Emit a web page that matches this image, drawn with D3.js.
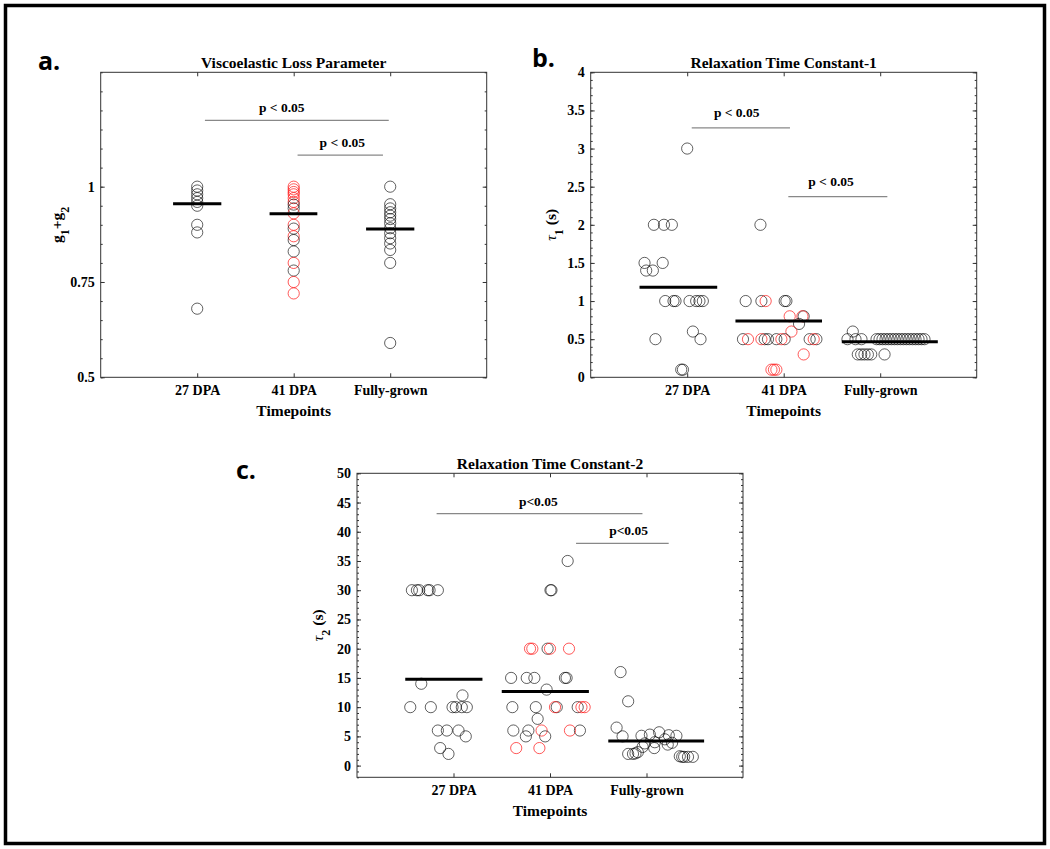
<!DOCTYPE html>
<html>
<head>
<meta charset="utf-8">
<script src="https://cdn.jsdelivr.net/npm/d3@7"></script>
<style>
  html, body { margin: 0; padding: 0; background: #fff; }
  svg { display: block; }
</style>
</head>
<body>
<svg id="chart" width="1050" height="849"></svg>
<script>
// ---------------- DATA ----------------
const categories = ["27 DPA", "41 DPA", "Fully-grown"];

// Panel a: g1+g2 (no jitter); [value, subgroup]  k = black, r = red
const a27 = [[1.00,"k"],[0.99,"k"],[0.98,"k"],[0.97,"k"],[0.96,"k"],[0.95,"k"],[0.90,"k"],[0.88,"k"],[0.68,"k"]];
const a41 = [[1.00,"r"],[0.993,"r"],[0.986,"r"],[0.98,"r"],[0.97,"r"],[0.96,"r"],[0.953,"k"],[0.943,"k"],[0.93,"r"],
             [0.90,"r"],[0.89,"k"],[0.87,"r"],[0.86,"k"],[0.83,"k"],[0.80,"r"],[0.78,"k"],[0.75,"r"],[0.72,"r"]];
const aFG = [[1.00,"k"],[0.954,"k"],[0.943,"k"],[0.933,"k"],[0.924,"k"],[0.915,"k"],[0.904,"k"],[0.891,"k"],
             [0.878,"k"],[0.865,"k"],[0.851,"k"],[0.834,"k"],[0.80,"k"],[0.59,"k"]];
const aCenter = [0.955, 0.929, 0.889];
const aCenterSpan = [[-0.25,0.25],[-0.25,0.245],[-0.25,0.25]];
const aSig = [[1.08, 2.985, 1.174, 1.876, "p < 0.05"], [2.04, 2.925, 1.083, 2.504, "p < 0.05"]];

// Panel b: tau1; [jitter offset, value, subgroup]
const b27 = [[0,3.0,"k"],[-0.345,2.0,"k"],[-0.241,2.0,"k"],[-0.159,2.0,"k"],[-0.442,1.5,"k"],[-0.254,1.5,"k"],
             [-0.425,1.4,"k"],[-0.356,1.4,"k"],[-0.228,1.0,"k"],[-0.142,1.0,"k"],[-0.121,1.0,"k"],[0.024,1.0,"k"],
             [0.093,1.0,"k"],[0.127,1.0,"k"],[0.162,1.0,"k"],[-0.329,0.5,"k"],[0.059,0.6,"k"],[0.138,0.5,"k"],
             [-0.062,0.1,"k"],[-0.044,0.1,"k"]];
const b41 = [[-0.241,2.0,"k"],[-0.394,1.0,"k"],[-0.231,1.0,"k"],[-0.187,1.0,"r"],[0.010,1.0,"k"],[0.028,1.0,"k"],
             [0.062,0.8,"r"],[0.207,0.8,"k"],[0.194,0.8,"r"],[0.159,0.7,"k"],[0.080,0.6,"r"],[0.207,0.3,"r"],
             [-0.422,0.5,"k"],[-0.37,0.5,"r"],[-0.197,0.5,"k"],[-0.231,0.5,"r"],[-0.163,0.5,"k"],[-0.076,0.5,"k"],
             [0.010,0.5,"k"],[-0.024,0.5,"r"],[0.269,0.5,"k"],[0.339,0.5,"k"],[0.311,0.5,"r"],
             [-0.127,0.1,"r"],[-0.101,0.1,"r"],[-0.076,0.1,"r"]];
const bFG = [[-0.284,0.6,"k"],[-0.339,0.5,"k"],[-0.256,0.5,"k"],[-0.194,0.5,"k"],[-0.038,0.5,"k"],[-0.007,0.5,"k"],
             [0.024,0.5,"k"],[0.055,0.5,"k"],[0.086,0.5,"k"],[0.117,0.5,"k"],[0.148,0.5,"k"],[0.179,0.5,"k"],
             [0.210,0.5,"k"],[0.241,0.5,"k"],[0.272,0.5,"k"],[0.303,0.5,"k"],[0.335,0.5,"k"],[0.366,0.5,"k"],
             [0.397,0.5,"k"],[0.428,0.5,"k"],[0.459,0.5,"k"],[-0.232,0.3,"k"],[-0.197,0.3,"k"],[-0.163,0.3,"k"],
             [-0.128,0.3,"k"],[-0.093,0.3,"k"],[0.045,0.3,"k"]];
const bCenter = [1.18, 0.738, 0.467];
const bCenterSpan = [[-0.494,0.311],[-0.5,0.397],[-0.398,0.597]];
const bSig = [[1.047, 2.065, 3.27, 1.513, "p < 0.05"], [2.048, 3.074, 2.37, 2.49, "p < 0.05"]];

// Panel c: tau2; [jitter offset, value, subgroup]
const c27 = [[-0.431,30,"k"],[-0.379,30,"k"],[-0.355,30,"k"],[-0.266,30,"k"],[-0.248,30,"k"],[-0.162,30,"k"],
             [-0.334,14,"k"],[0.093,12,"k"],[-0.448,10,"k"],[-0.235,10,"k"],[-0.01,10,"k"],[0.024,10,"k"],
             [0.086,10,"k"],[0.138,10,"k"],[-0.162,6,"k"],[-0.069,6,"k"],[0.052,6,"k"],[0.127,5,"k"],
             [-0.138,3,"k"],[-0.052,2,"k"]];
const c41 = [[0.183,35,"k"],[0.005,30,"k"],[0.015,30,"k"],
             [-0.207,20,"r"],[-0.183,20,"r"],[-0.025,20,"k"],[0.0,20,"r"],[0.197,20,"r"],
             [-0.403,15,"k"],[-0.241,15,"k"],[-0.162,15,"k"],[0.155,15,"k"],[0.172,15,"k"],
             [-0.035,13,"k"],
             [-0.39,10,"k"],[-0.147,10,"k"],[0.070,10,"k"],[0.052,10,"r"],[0.287,10,"k"],[0.326,10,"r"],[0.359,10,"r"],
             [-0.128,8,"k"],
             [-0.38,6,"k"],[-0.224,6,"k"],[-0.087,6,"r"],[0.207,6,"r"],[0.31,6,"k"],
             [-0.25,5,"k"],[-0.05,5,"k"],
             [-0.35,3,"r"],[-0.11,3,"r"]];
const cFG = [[-0.269,16,"k"],[-0.19,11,"k"],[-0.31,6.5,"k"],[-0.248,5,"k"],
             [-0.052,5.1,"k"],[0.035,5.3,"k"],[0.131,5.7,"k"],[0.231,5.2,"k"],[0.31,5.1,"k"],
             [-0.017,3.8,"k"],[0.086,4.0,"k"],[0.19,4.5,"k"],[0.265,3.9,"k"],
             [-0.04,3.2,"k"],[0.08,3.0,"k"],[0.22,3.6,"k"],
             [-0.19,2.0,"k"],[-0.14,2.0,"k"],[-0.114,2.1,"k"],[-0.09,2.3,"k"],
             [0.345,1.6,"k"],[0.37,1.5,"k"],[0.39,1.5,"k"],[0.43,1.5,"k"],[0.48,1.5,"k"]];
const cCenter = [14.78, 12.66, 4.22];
const cCenterSpan = [[-0.5,0.3],[-0.5,0.403],[-0.396,0.597]];
const cSig = [[0.825, 2.958, 43.1, 1.879, "p<0.05"], [2.27, 3.23, 38, 2.814, "p<0.05"]];

// Axis ticks
const aTicks = [0.5, 0.75, 1];
const aTickLabels = ["0.5", "0.75", "1"];
const bTicks = [0, 0.5, 1, 1.5, 2, 2.5, 3, 3.5, 4];
const cTicks = [0, 5, 10, 15, 20, 25, 30, 35, 40, 45, 50];

// ---------------- DRAWING ----------------
const svg = d3.select("#chart");
const SERIF = "'Liberation Serif', 'Times New Roman', serif";
const COL = { k: "rgba(0,0,0,0.62)", r: "rgba(255,20,20,0.7)" };

// outer frame
svg.append("rect").attr("x", 5.5).attr("y", 5.5).attr("width", 1039).attr("height", 838)
  .attr("fill", "none").attr("stroke", "#000").attr("stroke-width", 3.5);

function drawPanel(cfg) {
  const { left, top, w, h } = cfg;
  const g = svg.append("g");
  const x = d3.scaleLinear().domain([0, 4]).range([left, left + w]);
  const y = d3.scaleLinear().domain(cfg.yDomain).range([top + h, top]);

  const styleAxis = sel => {
    sel.select(".domain").remove();
    sel.selectAll("line").attr("stroke", "#333").attr("stroke-width", 1);
    sel.selectAll("text").attr("font-family", SERIF).attr("font-weight", "bold")
      .attr("font-size", 14).attr("fill", "#000");
  };

  // minor ticks (left & right)
  const minorVals = d3.range(cfg.minor[0], cfg.minor[1] + 1e-9, cfg.minor[2]);
  g.append("g").attr("transform", `translate(${left},0)`)
    .call(d3.axisLeft(y).tickValues(minorVals).tickSize(-2).tickFormat("")).call(styleAxis);
  g.append("g").attr("transform", `translate(${left + w},0)`)
    .call(d3.axisRight(y).tickValues(minorVals).tickSize(-2).tickFormat("")).call(styleAxis);

  // major y ticks
  g.append("g").attr("transform", `translate(${left},0)`)
    .call(d3.axisLeft(y).tickValues(cfg.yTicks).tickSize(-4).tickPadding(6)
      .tickFormat((d, i) => cfg.yTickLabels ? cfg.yTickLabels[i] : d3.format("~g")(d)))
    .call(styleAxis);
  g.append("g").attr("transform", `translate(${left + w},0)`)
    .call(d3.axisRight(y).tickValues(cfg.yTicks).tickSize(-4).tickFormat("")).call(styleAxis);

  // x ticks
  g.append("g").attr("transform", `translate(0,${top + h})`)
    .call(d3.axisBottom(x).tickValues([1, 2, 3]).tickSize(-4).tickPadding(8)
      .tickFormat(d => categories[d - 1]))
    .call(styleAxis);
  g.append("g").attr("transform", `translate(0,${top})`)
    .call(d3.axisTop(x).tickValues([1, 2, 3]).tickSize(-4).tickFormat("")).call(styleAxis);

  // box
  g.append("rect").attr("x", left).attr("y", top).attr("width", w).attr("height", h)
    .attr("fill", "none").attr("stroke", "#333").attr("stroke-width", 1);

  // points
  cfg.groups.forEach((pts, gi) => {
    g.append("g").selectAll("circle").data(pts).join("circle")
      .attr("cx", d => x(gi + 1 + (cfg.jitter ? d[0] : 0)))
      .attr("cy", d => y(cfg.jitter ? d[1] : d[0]))
      .attr("r", 5.6)
      .attr("fill", "none")
      .attr("stroke", d => COL[cfg.jitter ? d[2] : d[1]])
      .attr("stroke-width", 1);
  });

  // center lines
  g.append("g").selectAll("line").data(cfg.center).join("line")
    .attr("x1", (d, i) => x(i + 1 + cfg.centerSpan[i][0]))
    .attr("x2", (d, i) => x(i + 1 + cfg.centerSpan[i][1]))
    .attr("y1", d => y(d)).attr("y2", d => y(d))
    .attr("stroke", "#000").attr("stroke-width", 3);

  // significance bars
  cfg.sig.forEach(s => {
    g.append("line").attr("x1", x(s[0])).attr("x2", x(s[1]))
      .attr("y1", y(s[2])).attr("y2", y(s[2]))
      .attr("stroke", "#888").attr("stroke-width", 1.3);
    g.append("text").attr("x", x(s[3])).attr("y", y(s[2]) - cfg.sigGap)
      .attr("text-anchor", "middle").attr("font-family", SERIF).attr("font-weight", "bold")
      .attr("font-size", 13.5).text(s[4]);
  });

  // title
  g.append("text").attr("x", left + w / 2).attr("y", top - 4).attr("text-anchor", "middle")
    .attr("font-family", SERIF).attr("font-weight", "bold").attr("font-size", 15.5).text(cfg.title);

  // x label
  g.append("text").attr("x", left + w / 2).attr("y", top + h + 39).attr("text-anchor", "middle")
    .attr("font-family", SERIF).attr("font-weight", "bold").attr("font-size", 15.5).text("Timepoints");

  // y label
  const yl = g.append("text")
    .attr("transform", `translate(${cfg.yLabelX},${top + h / 2}) rotate(-90)`)
    .attr("text-anchor", "middle").attr("dy", "0.35em")
    .attr("font-family", SERIF).attr("font-weight", "bold").attr("font-size", 15.5);
  cfg.yLabel(yl);

  // panel letter
  g.append("text").attr("x", cfg.letterPos[0]).attr("y", cfg.letterPos[1])
    .attr("font-family", "'Open Sans', 'Noto Sans', sans-serif").attr("font-weight", "bold")
    .attr("font-size", 25).text(cfg.letter);
}

drawPanel({
  left: 100.7, top: 72.3, w: 386, h: 305, yDomain: [0.5, 1.3],
  yTicks: aTicks, yTickLabels: aTickLabels, minor: [0.5, 1.3, 0.05],
  groups: [a27, a41, aFG], jitter: false, center: aCenter, centerSpan: aCenterSpan,
  sig: aSig, sigGap: 8, title: "Viscoelastic Loss Parameter",
  yLabelX: 57, letter: "a.", letterPos: [38, 70],
  yLabel: t => {
    t.append("tspan").text("g");
    t.append("tspan").attr("baseline-shift", "sub").attr("font-size", 12).text("1");
    t.append("tspan").text("+g");
    t.append("tspan").attr("baseline-shift", "sub").attr("font-size", 12).text("2");
  }
});

drawPanel({
  left: 590.7, top: 72.3, w: 386, h: 305, yDomain: [0, 4],
  yTicks: bTicks, minor: [0, 4, 0.1],
  groups: [b27, b41, bFG], jitter: true, center: bCenter, centerSpan: bCenterSpan,
  sig: bSig, sigGap: 11, title: "Relaxation Time Constant-1",
  yLabelX: 551, letter: "b.", letterPos: [532, 67],
  yLabel: t => {
    t.append("tspan").attr("font-style", "italic").attr("font-weight", "normal").text("τ");
    t.append("tspan").attr("baseline-shift", "sub").attr("font-size", 12).text("1");
    t.append("tspan").text(" (s)");
  }
});

drawPanel({
  left: 357, top: 473.3, w: 386, h: 304, yDomain: [-2, 50],
  yTicks: cTicks, minor: [-2, 50, 1],
  groups: [c27, c41, cFG], jitter: true, center: cCenter, centerSpan: cCenterSpan,
  sig: cSig, sigGap: 8, title: "Relaxation Time Constant-2",
  yLabelX: 318, letter: "c.", letterPos: [236, 479],
  yLabel: t => {
    t.append("tspan").attr("font-style", "italic").attr("font-weight", "normal").text("τ");
    t.append("tspan").attr("baseline-shift", "sub").attr("font-size", 12).text("2");
    t.append("tspan").text(" (s)");
  }
});
</script>
</body>
</html>
